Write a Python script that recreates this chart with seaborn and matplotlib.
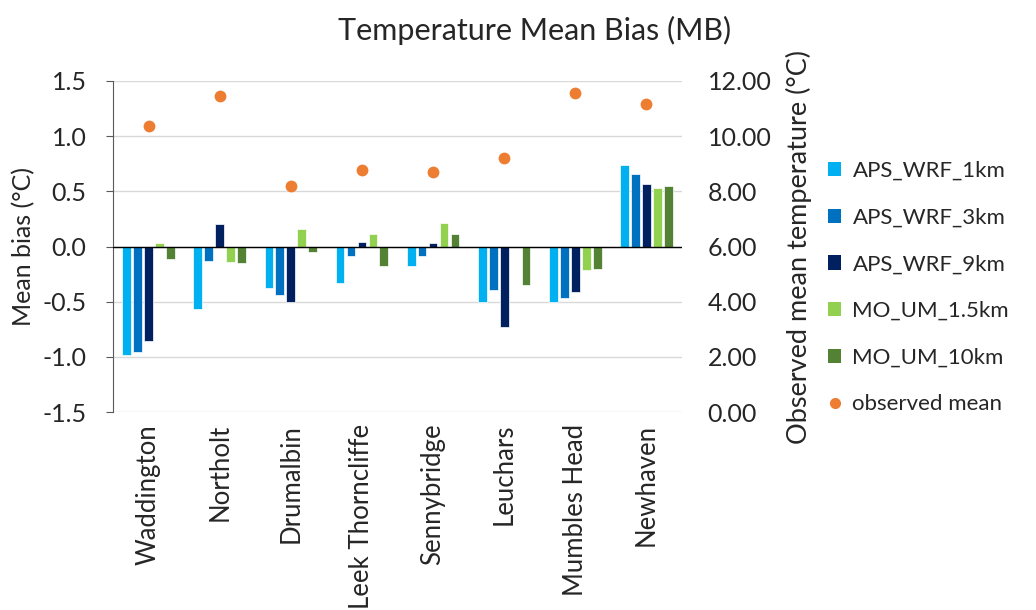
import numpy as np
import pandas as pd
import matplotlib
matplotlib.use("Agg")
import matplotlib.pyplot as plt
import seaborn as sns
from matplotlib.lines import Line2D
from matplotlib.patches import Patch

sites = ["Waddington", "Northolt", "Drumalbin", "Leek Thorncliffe",
         "Sennybridge", "Leuchars", "Mumbles Head", "Newhaven"]
models = ["APS_WRF_1km", "APS_WRF_3km", "APS_WRF_9km", "MO_UM_1.5km", "MO_UM_10km"]
aps_wrf_1km = [-0.98, -0.57, -0.38, -0.33, -0.18, -0.505, -0.505, 0.74]
aps_wrf_3km = [-0.96, -0.13, -0.44, -0.09, -0.09, -0.39, -0.47, 0.66]
aps_wrf_9km = [-0.86, 0.20, -0.50, 0.04, 0.03, -0.73, -0.41, 0.57]
mo_um_1p5km = [0.03, -0.14, 0.16, 0.11, 0.21, -0.005, -0.21, 0.53]
mo_um_10km = [-0.11, -0.15, -0.05, -0.18, 0.11, -0.35, -0.20, 0.55]
observed_mean = [10.37, 11.46, 8.18, 8.76, 8.71, 9.21, 11.57, 11.18]
left_ticks = [-1.5, -1.0, -0.5, 0.0, 0.5, 1.0, 1.5]
right_ticks = [0, 2, 4, 6, 8, 10, 12]

colors = ["#00B0F0", "#0070C0", "#002060", "#92D050", "#548235"]
obs_color = "#ED7D31"

sns.set_style("white")
plt.rcParams["font.family"] = ["Lato", "DejaVu Sans"]

rows = []
for m, vals in zip(models, [aps_wrf_1km, aps_wrf_3km, aps_wrf_9km, mo_um_1p5km, mo_um_10km]):
    for s, v in zip(sites, vals):
        rows.append({"site": s, "model": m, "bias": v})
df = pd.DataFrame(rows)
obs_df = pd.DataFrame({"site": sites, "obs": observed_mean})

fig = plt.figure(figsize=(10.36, 6.10), dpi=100)
ax = fig.add_axes([113/1036, 1-412/610, (682-113)/1036, (412-81)/610])

sns.barplot(data=df, x="site", y="bias", hue="model", order=sites, hue_order=models,
            palette=colors, width=0.77, gap=0.2, ax=ax, legend=False,
            edgecolor="white", linewidth=0.5, saturation=1)

ax.set_ylim(-1.5, 1.5)
ax.set_yticks(left_ticks)
ax.set_yticklabels([f"{t:.1f}" for t in left_ticks], fontsize=18)
ax.set_xlim(-0.5, len(sites) - 0.5)
ax.grid(axis="y", color="#D9D9D9", linewidth=1)
ax.set_axisbelow(True)
ax.axhline(0, color="black", linewidth=1, zorder=3)
for sp in ["top", "right", "bottom"]:
    ax.spines[sp].set_visible(False)
ax.spines["left"].set_color("#595959")
ax.tick_params(axis="y", left=True, length=5, color="#595959", pad=14)
ax.tick_params(axis="x", bottom=False, pad=5)
ax.set_xticks(range(len(sites)))
ax.set_xticklabels(sites, rotation=90, fontsize=18.5)
ax.set_xlabel("")
ax.set_ylabel("Mean bias (°C)", fontsize=18, labelpad=5)

ax2 = ax.twinx()
sns.stripplot(data=obs_df, x="site", y="obs", order=sites, jitter=False,
              color=obs_color, size=8.5, ax=ax2, zorder=4)
ax2.set_ylim(0, 12)
ax2.set_yticks(right_ticks)
ax2.set_yticklabels([f"{t:.2f}" for t in right_ticks], fontsize=18)
ax2.set_xlim(-0.5, len(sites) - 0.5)
for sp in ax2.spines.values():
    sp.set_visible(False)
ax2.tick_params(axis="y", right=False, pad=15)
ax2.set_ylabel("Observed mean temperature (°C)", fontsize=19.5, labelpad=10)
ax2.set_xlabel("")
ax2.grid(False)

handles = [Patch(facecolor=c, edgecolor="none") for c in colors]
handles.append(Line2D([], [], marker="o", linestyle="none", color=obs_color, markersize=7))
fig.legend(handles, models + ["observed mean"], loc="upper left",
           bbox_to_anchor=(828/1036, 1-161/610), frameon=False, fontsize=16,
           labelspacing=1.2, handlelength=0.6, handleheight=0.6, handletextpad=0.5,
           borderpad=0, borderaxespad=0)

fig.text(535/1036, 1-30/610, "Temperature Mean Bias (MB)", ha="center", va="center", fontsize=22)

fig.savefig("out.png", dpi=100)
